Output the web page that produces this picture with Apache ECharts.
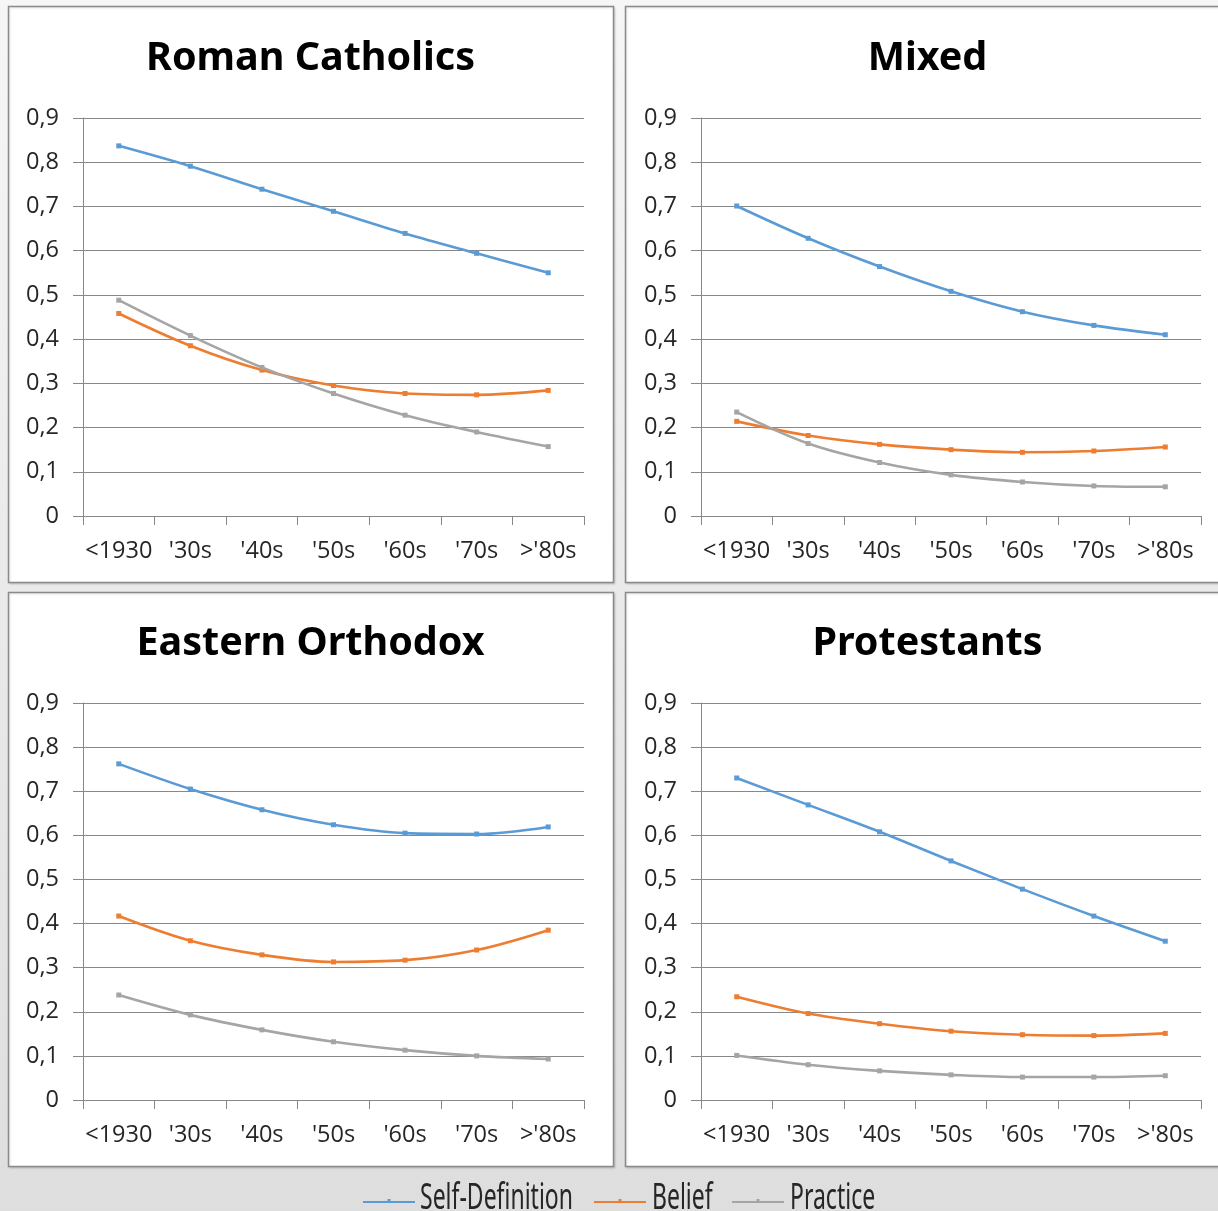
<!DOCTYPE html>
<html>
<head>
<meta charset="utf-8">
<title>Religiosity by birth cohort</title>
<script src="https://cdn.jsdelivr.net/npm/echarts@6/dist/echarts.min.js"></script>
<style>
  html, body { margin: 0; padding: 0; }
  #chart { width: 1218px; height: 1211px; }
</style>
</head>
<body>
<div id="chart"></div>
<script>
// Birth cohorts on the x axis
const categories = ['<1930', "'30s", "'40s", "'50s", "'60s", "'70s", ">'80s"];
const seriesNames = ['Self-Definition', 'Belief', 'Practice'];
const seriesColors = ['#5b9bd5', '#ed7d31', '#a5a5a5'];
const panelTitles = ['Roman Catholics', 'Mixed', 'Eastern Orthodox', 'Protestants'];
const yTickLabels = ['0', '0,1', '0,2', '0,3', '0,4', '0,5', '0,6', '0,7', '0,8', '0,9'];

// Roman Catholics
const catholicSelfDefinition = [0.837, 0.791, 0.739, 0.689, 0.639, 0.594, 0.550];
const catholicBelief         = [0.458, 0.385, 0.330, 0.295, 0.277, 0.274, 0.284];
const catholicPractice       = [0.488, 0.408, 0.336, 0.277, 0.228, 0.190, 0.157];

// Mixed
const mixedSelfDefinition = [0.701, 0.628, 0.564, 0.508, 0.462, 0.431, 0.410];
const mixedBelief         = [0.214, 0.182, 0.162, 0.150, 0.144, 0.147, 0.156];
const mixedPractice       = [0.235, 0.164, 0.121, 0.093, 0.077, 0.068, 0.066];

// Eastern Orthodox
const orthodoxSelfDefinition = [0.762, 0.705, 0.658, 0.624, 0.605, 0.603, 0.619];
const orthodoxBelief         = [0.417, 0.361, 0.329, 0.313, 0.317, 0.340, 0.385];
const orthodoxPractice       = [0.238, 0.193, 0.159, 0.132, 0.113, 0.100, 0.093];

// Protestants
const protestantSelfDefinition = [0.730, 0.669, 0.608, 0.542, 0.478, 0.417, 0.360];
const protestantBelief         = [0.234, 0.196, 0.173, 0.156, 0.148, 0.146, 0.151];
const protestantPractice       = [0.101, 0.080, 0.066, 0.057, 0.052, 0.052, 0.055];

const panelData = [
  [catholicSelfDefinition, catholicBelief, catholicPractice],
  [mixedSelfDefinition, mixedBelief, mixedPractice],
  [orthodoxSelfDefinition, orthodoxBelief, orthodoxPractice],
  [protestantSelfDefinition, protestantBelief, protestantPractice]
];

// Panel frames and plot areas (pixels)
const frames = [
  { x: 8,   y: 6,   w: 605, h: 576 },
  { x: 625, y: 6,   w: 605, h: 576 },
  { x: 8,   y: 592, w: 605, h: 574 },
  { x: 625, y: 592, w: 605, h: 574 }
];
const plots = [
  { left: 83,  top: 118, width: 501, height: 398 },
  { left: 701, top: 118, width: 500, height: 398 },
  { left: 83,  top: 703, width: 501, height: 397 },
  { left: 701, top: 703, width: 500, height: 397 }
];
const titleTops = [39, 39, 624, 624];

const axisGray = '#888888';
const labelColor = '#262626';
const labelFont = '"Open Sans", "Noto Sans", sans-serif';

const chart = echarts.init(document.getElementById('chart'), null, { renderer: 'canvas' });

const grid = [], xAxis = [], yAxis = [], series = [], title = [], graphic = [];

frames.forEach((f, i) => {
  graphic.push({
    type: 'rect', z: -1, silent: true,
    shape: { x: f.x + 0.5, y: f.y + 0.5, width: f.w, height: f.h },
    style: { fill: '#ffffff', stroke: '#8a8a8a', lineWidth: 1.5,
             shadowColor: 'rgba(0,0,0,0.12)', shadowBlur: 2, shadowOffsetX: 1, shadowOffsetY: 1 }
  });

  title.push({
    text: panelTitles[i],
    left: f.x + f.w / 2, top: titleTops[i], textAlign: 'center', padding: 0,
    textStyle: { fontFamily: '"Noto Sans", "Open Sans", sans-serif', fontWeight: 'bold', fontSize: 39.5, color: '#000' }
  });

  grid.push(Object.assign({ containLabel: false }, plots[i]));

  xAxis.push({
    type: 'category', gridIndex: i, data: categories, boundaryGap: true,
    axisLine: { show: true, lineStyle: { color: axisGray, width: 1 } },
    axisTick: { show: true, length: 9, interval: 0, lineStyle: { color: axisGray } },
    axisLabel: { interval: 0, margin: 23, color: labelColor, fontSize: 23.5, fontFamily: labelFont },
    splitLine: { show: false }
  });

  yAxis.push({
    type: 'value', gridIndex: i, min: 0, max: 0.9, interval: 0.1,
    axisLine: { show: true, lineStyle: { color: axisGray, width: 1 } },
    axisTick: { show: true, length: 10, lineStyle: { color: axisGray } },
    axisLabel: {
      margin: 24, color: labelColor, fontSize: 23.5, fontFamily: labelFont,
      formatter: v => yTickLabels[Math.round(v * 10)]
    },
    splitLine: { show: true, lineStyle: { color: axisGray, width: 1 } }
  });

  panelData[i].forEach((values, s) => {
    series.push({
      name: seriesNames[s], type: 'line', xAxisIndex: i, yAxisIndex: i,
      data: values, smooth: 0.35,
      symbol: 'rect', symbolSize: 5, showSymbol: true,
      lineStyle: { color: seriesColors[s], width: 2.6 },
      itemStyle: { color: seriesColors[s] },
      emphasis: { disabled: true },
      animation: false
    });
  });
});

// Legend strip along the bottom edge
const legendItems = [
  { lineX: 363, lineW: 52, textX: 420 },
  { lineX: 594, lineW: 52, textX: 652 },
  { lineX: 732, lineW: 52, textX: 790 }
];
legendItems.forEach((it, s) => {
  graphic.push({
    type: 'line', silent: true,
    shape: { x1: it.lineX, y1: 1202, x2: it.lineX + it.lineW, y2: 1202 },
    style: { stroke: seriesColors[s], lineWidth: 2 }
  });
  graphic.push({
    type: 'rect', silent: true,
    shape: { x: it.lineX + it.lineW / 2 - 1.5, y: 1199, width: 3, height: 3 },
    style: { fill: seriesColors[s] }
  });
  graphic.push({
    type: 'group', x: it.textX, y: 1211, scaleY: 1.6, silent: true,
    children: [{
      type: 'text', x: 0, y: -7.5,
      style: { text: seriesNames[s], fill: '#262626', font: '23px "Noto Sans", sans-serif',
               textAlign: 'left', textVerticalAlign: 'middle' }
    }]
  });
});

chart.setOption({
  animation: false,
  backgroundColor: {
    type: 'linear', x: 0, y: 0, x2: 0, y2: 1,
    colorStops: [{ offset: 0, color: '#f6f6f6' }, { offset: 1, color: '#dedede' }]
  },
  title, grid, xAxis, yAxis, series, graphic,
  legend: { show: false, data: seriesNames }
});
</script>
</body>
</html>
